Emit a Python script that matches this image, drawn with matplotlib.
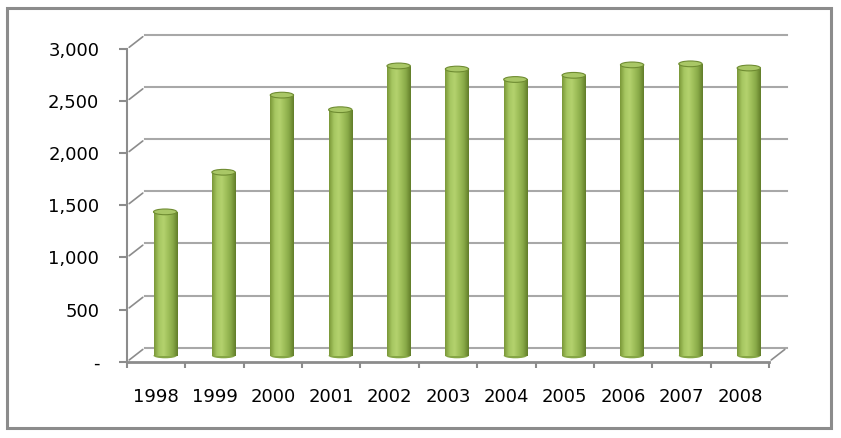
import numpy as np
import matplotlib
matplotlib.use("Agg")
from matplotlib import pyplot as plt
from matplotlib.transforms import ScaledTranslation
from matplotlib.patches import Ellipse, Rectangle
from matplotlib.colors import LinearSegmentedColormap

years = ["1998", "1999", "2000", "2001", "2002", "2003", "2004", "2005", "2006", "2007", "2008"]
values = [1380, 1760, 2500, 2360, 2780, 2750, 2650, 2690, 2790, 2800, 2760]
y_ticks = [0, 500, 1000, 1500, 2000, 2500, 3000]

fig = plt.figure(figsize=(8.41, 4.38), dpi=100)
ax = fig.add_axes([127 / 841, (438 - 361.7) / 438, 642 / 841, 312.7 / 438])
ax.set_xlim(-0.5, len(years) - 0.5)
ax.set_ylim(0, 3000)

# pseudo 3d offsets (back wall and bar plane)
back = ax.transData + ScaledTranslation(18 / 100, 14 / 100, fig.dpi_scale_trans)
mid = ax.transData + ScaledTranslation(9 / 100, 6 / 100, fig.dpi_scale_trans)

grey = "#8c8c8c"
for v in y_ticks:
    ax.plot([-0.5, len(years) - 0.5], [v, v], transform=back, color="#a8a8a8",
            lw=1.5, clip_on=False, zorder=1)
    ax.annotate("", xy=(-0.5, v), xycoords=back, xytext=(-0.5, v), textcoords="data",
                arrowprops=dict(arrowstyle="-", color=grey, lw=1.2), zorder=1)
ax.annotate("", xy=(len(years) - 0.5, 0), xycoords=back, xytext=(len(years) - 0.5, 0),
            textcoords="data", arrowprops=dict(arrowstyle="-", color=grey, lw=1.2), zorder=1)

cmap = LinearSegmentedColormap.from_list("cyl", ["#7a9838", "#a6c661", "#b4d26e", "#9fbf5a", "#88a947", "#627d2a"])
grad = np.linspace(0, 1, 64).reshape(1, -1)
w = 0.4
bars = ax.bar(range(len(years)), values, width=w, transform=mid, color="#9bbb59", zorder=3)
for i, (b, v) in enumerate(zip(bars, values)):
    ax.add_patch(Ellipse((i, 0), w, 50, transform=mid, facecolor="#86a646", edgecolor="none", zorder=2.9))
    im = ax.imshow(grad, cmap=cmap, extent=[i - w / 2, i + w / 2, 0, v], aspect="auto",
                   transform=mid, zorder=3.1, interpolation="bilinear")
    im.set_clip_path(b)
    ax.add_patch(Ellipse((i, v), w, 55, transform=mid, facecolor="#a9c766",
                         edgecolor="#6f8c32", lw=0.8, zorder=3.2))
ax.set_xlim(-0.5, len(years) - 0.5)
ax.set_ylim(0, 3000)

for s in ["top", "right"]:
    ax.spines[s].set_visible(False)
ax.spines["left"].set_color(grey)
ax.spines["left"].set_linewidth(1.5)
ax.spines["bottom"].set_color(grey)
ax.spines["bottom"].set_linewidth(2)

ax.set_yticks(y_ticks)
ax.set_yticklabels(["-" if v == 0 else "{:,}".format(v) for v in y_ticks])
ax.tick_params(axis="y", length=6, width=1.5, color=grey, pad=14, labelsize=13)
ax.set_xticks(range(len(years)))
ax.set_xticklabels(years)
ax.set_xticks(np.arange(-0.5, len(years)), minor=True)
ax.tick_params(axis="x", which="major", length=0, pad=19, labelsize=13)
ax.tick_params(axis="x", which="minor", length=4, width=1.5, color=grey)
ax.set_facecolor("none")

fig.patches.append(Rectangle((7 / 841, 10 / 438), 824 / 841, 420 / 438, transform=fig.transFigure,
                             fill=False, edgecolor=grey, lw=2.2))

fig.savefig("out.png", dpi=100)
